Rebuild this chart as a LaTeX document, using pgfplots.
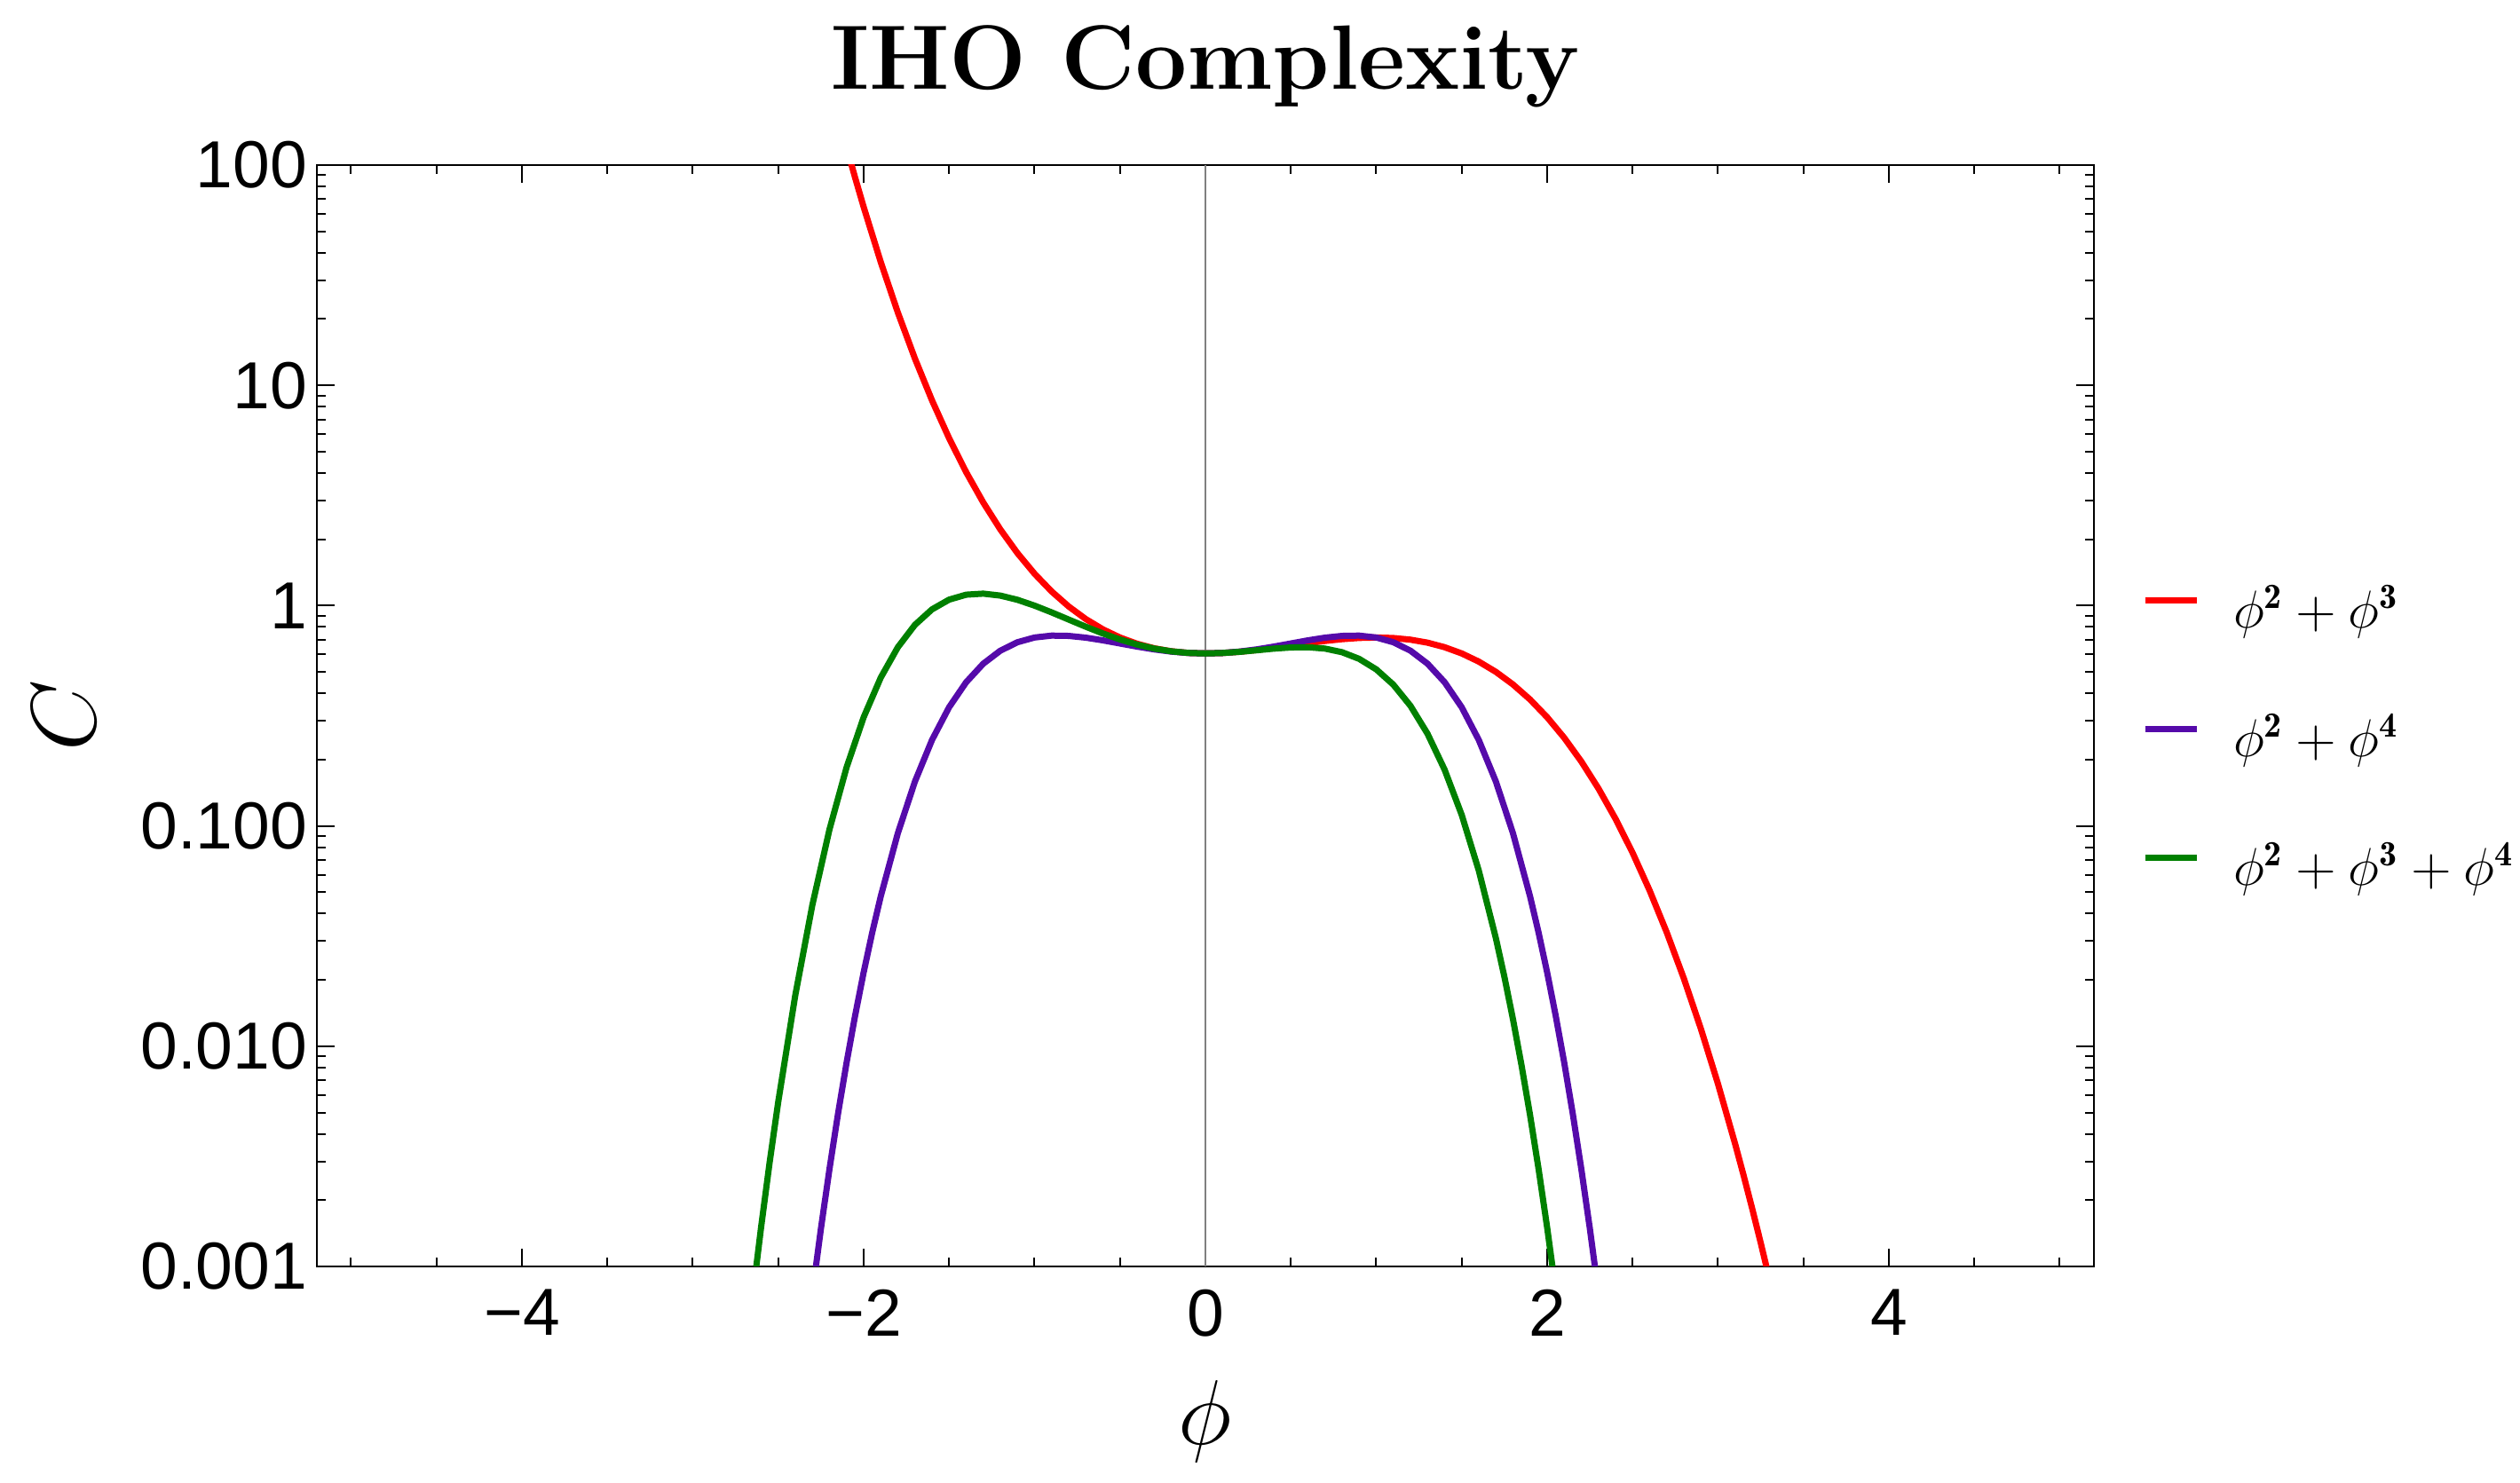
\documentclass[border=0pt]{standalone}
\usepackage{fontspec}
\usepackage{pgfplots}
\pgfplotsset{compat=1.18}
\newfontfamily\arial{Liberation Sans}
\definecolor{cred}{RGB}{255,0,0}
\definecolor{cpurple}{RGB}{85,10,170}
\definecolor{cgreen}{RGB}{0,128,0}

\begin{document}
\begin{tikzpicture}
\useasboundingbox (-71.4pt,-48.8pt) rectangle (496.4pt,285.4pt);
\begin{axis}[
  at={(0pt,0pt)}, anchor=south west,
  scale only axis, width=400.4pt, height=248.2pt,
  xmin=-5.2, xmax=5.2, ymin=-3, ymax=2,
  xtick={-4,-2,0,2,4}, xticklabels={−4,−2,0,2,4},
  minor xtick={-5,-4.5,-3.5,-3,-2.5,-1.5,-1,-0.5,0.5,1,1.5,2.5,3,3.5,4.5,5},
  ytick={-3,-2,-1,0,1,2}, yticklabels={0.001,0.010,0.100,1,10,100},
  minor ytick={-2.69897,-2.52288,-2.39794,-2.30103,-2.22185,-2.15490,-2.09691,-2.04576,
    -1.69897,-1.52288,-1.39794,-1.30103,-1.22185,-1.15490,-1.09691,-1.04576,
    -0.69897,-0.52288,-0.39794,-0.30103,-0.22185,-0.15490,-0.09691,-0.04576,
    0.30103,0.47712,0.60206,0.69897,0.77815,0.84510,0.90309,0.95424,
    1.30103,1.47712,1.60206,1.69897,1.77815,1.84510,1.90309,1.95424},
  tick align=inside,
  major tick length=4pt, minor tick length=2pt,
  every tick/.style={black, line width=0.4pt},
  axis line style={line width=0.5pt},
  tick label style={font=\arial\fontsize{15}{18}\selectfont, inner sep=0pt},
  xticklabel style={yshift=-5pt},
  yticklabel style={xshift=-2pt},
  title={IHO Complexity},
  title style={at={(0.5,1)}, anchor=base, yshift=11pt, font=\fontsize{20.6}{24}\selectfont\bfseries},
  xlabel={$\phi$}, ylabel={$C$},
  xlabel style={at={(axis description cs:0.5,0)}, anchor=center, yshift=-35pt, font=\fontsize{20}{24}\selectfont},
  ylabel style={at={(axis description cs:-0.1424,0.5)}, anchor=center, font=\fontsize{20}{24}\selectfont},
  legend style={draw=none, fill=none, at={(axis description cs:1.027,0.4762)}, anchor=west,
    font=\fontsize{12}{14}\selectfont, row sep=16.5pt, inner sep=0pt, outer sep=0pt,
    nodes={inner sep=0pt, text height=9.5pt, text depth=3pt},
    /tikz/every odd column/.append style={column sep=7.6pt}},
  legend cell align=left,
  legend image code/.code={\draw[#1] (0pt,3pt) -- (11.6pt,3pt);},
  every axis plot/.append style={line width=1.4pt, line join=round},
]
\draw[black!50, line width=0.4pt] (axis cs:0,-3) -- (axis cs:0,2);

\addplot[cred] coordinates {
(-2.2,2.3753) (-2.1,2.0811) (-2.05,1.9426) (-2.0,1.8096) (-1.9,1.5597) (-1.8,1.3307)
(-1.7,1.1216) (-1.6,0.9317) (-1.5,0.7600) (-1.4,0.6057) (-1.3,0.4679) (-1.2,0.3457)
(-1.1,0.2383) (-1.0,0.1448) (-0.9,0.0643) (-0.8,-0.0040) (-0.7,-0.0611) (-0.6,-0.1077)
(-0.5,-0.1448) (-0.4,-0.1731) (-0.3,-0.1937) (-0.2,-0.2073) (-0.1,-0.2148) (0,-0.2171)
(0.1,-0.2151) (0.2,-0.2096) (0.3,-0.2015) (0.4,-0.1917) (0.5,-0.1810) (0.6,-0.1702)
(0.7,-0.1604) (0.8,-0.1523) (0.9,-0.1468) (1.0,-0.1448) (1.1,-0.1471) (1.2,-0.1546)
(1.3,-0.1682) (1.4,-0.1888) (1.5,-0.2171) (1.6,-0.2542) (1.7,-0.3008) (1.8,-0.3579)
(1.9,-0.4262) (2.0,-0.5067) (2.1,-0.6002) (2.2,-0.7076) (2.3,-0.8298) (2.4,-0.9676)
(2.5,-1.1219) (2.6,-1.2936) (2.7,-1.4836) (2.8,-1.6926) (2.9,-1.9216) (3.0,-2.1715)
(3.1,-2.4430) (3.15,-2.5873) (3.2,-2.7372) (3.25,-2.8930) (3.3,-3.0548)
};
\addlegendentry{$\phi^{\mathbf{2}}+\phi^{\mathbf{3}}$}

\addplot[cpurple] coordinates {
(-2.3,-3.1195) (-2.25,-2.8280) (-2.2,-2.5574) (-2.15,-2.3066) (-2.1,-2.0749) (-2.05,-1.8613)
(-2.0,-1.6648) (-1.95,-1.4846) (-1.9,-1.3198) (-1.8,-1.0333) (-1.7,-0.7987) (-1.6,-0.6100)
(-1.5,-0.4614) (-1.4,-0.3477) (-1.3,-0.2636) (-1.2,-0.2046) (-1.1,-0.1663) (-1.0,-0.1448)
(-0.9,-0.1362) (-0.8,-0.1375) (-0.7,-0.1455) (-0.6,-0.1577) (-0.5,-0.1719) (-0.4,-0.1861)
(-0.3,-0.1988) (-0.2,-0.2087) (-0.1,-0.2150) (0,-0.2171)
(0.1,-0.2150) (0.2,-0.2087) (0.3,-0.1988) (0.4,-0.1861) (0.5,-0.1719) (0.6,-0.1577)
(0.7,-0.1455) (0.8,-0.1375) (0.9,-0.1362) (1.0,-0.1448) (1.1,-0.1663) (1.2,-0.2046)
(1.3,-0.2636) (1.4,-0.3477) (1.5,-0.4614) (1.6,-0.6100) (1.7,-0.7987) (1.8,-1.0333)
(1.9,-1.3198) (1.95,-1.4846) (2.0,-1.6648) (2.05,-1.8613) (2.1,-2.0749) (2.15,-2.3066)
(2.2,-2.5574) (2.25,-2.8280) (2.3,-3.1195)
};
\addlegendentry{$\phi^{\mathbf{2}}+\phi^{\mathbf{4}}$}

\addplot[cgreen] coordinates {
(-2.7,-3.4781) (-2.65,-3.1373) (-2.6,-2.8202) (-2.55,-2.5258) (-2.5,-2.2529) (-2.4,-1.7681)
(-2.3,-1.3582) (-2.2,-1.0159) (-2.1,-0.7343) (-2.0,-0.5067) (-1.9,-0.3269) (-1.8,-0.1890)
(-1.7,-0.0874) (-1.6,-0.0170) (-1.5,0.0271) (-1.4,0.0496) (-1.3,0.0544) (-1.2,0.0455)
(-1.1,0.0264) (-1.0,0.0000) (-0.9,-0.0307) (-0.8,-0.0633) (-0.7,-0.0958) (-0.6,-0.1265)
(-0.5,-0.1538) (-0.4,-0.1768) (-0.3,-0.1949) (-0.2,-0.2075) (-0.1,-0.2148) (0,-0.2171)
(0.1,-0.2151) (0.2,-0.2099) (0.3,-0.2027) (0.4,-0.1953) (0.5,-0.1900) (0.6,-0.1890)
(0.7,-0.1951) (0.8,-0.2116) (0.9,-0.2418) (1.0,-0.2895) (1.1,-0.3590) (1.2,-0.4548)
(1.3,-0.5817) (1.4,-0.7449) (1.5,-0.9500) (1.6,-1.2029) (1.7,-1.5099) (1.75,-1.6857)
(1.8,-1.8775) (1.85,-2.0863) (1.9,-2.3127) (1.95,-2.5580) (2.0,-2.8229) (2.05,-3.1084)
(2.1,-3.4156)
};
\addlegendentry{$\phi^{\mathbf{2}}+\phi^{\mathbf{3}}+\phi^{\mathbf{4}}$}
\end{axis}
\end{tikzpicture}
\end{document}
